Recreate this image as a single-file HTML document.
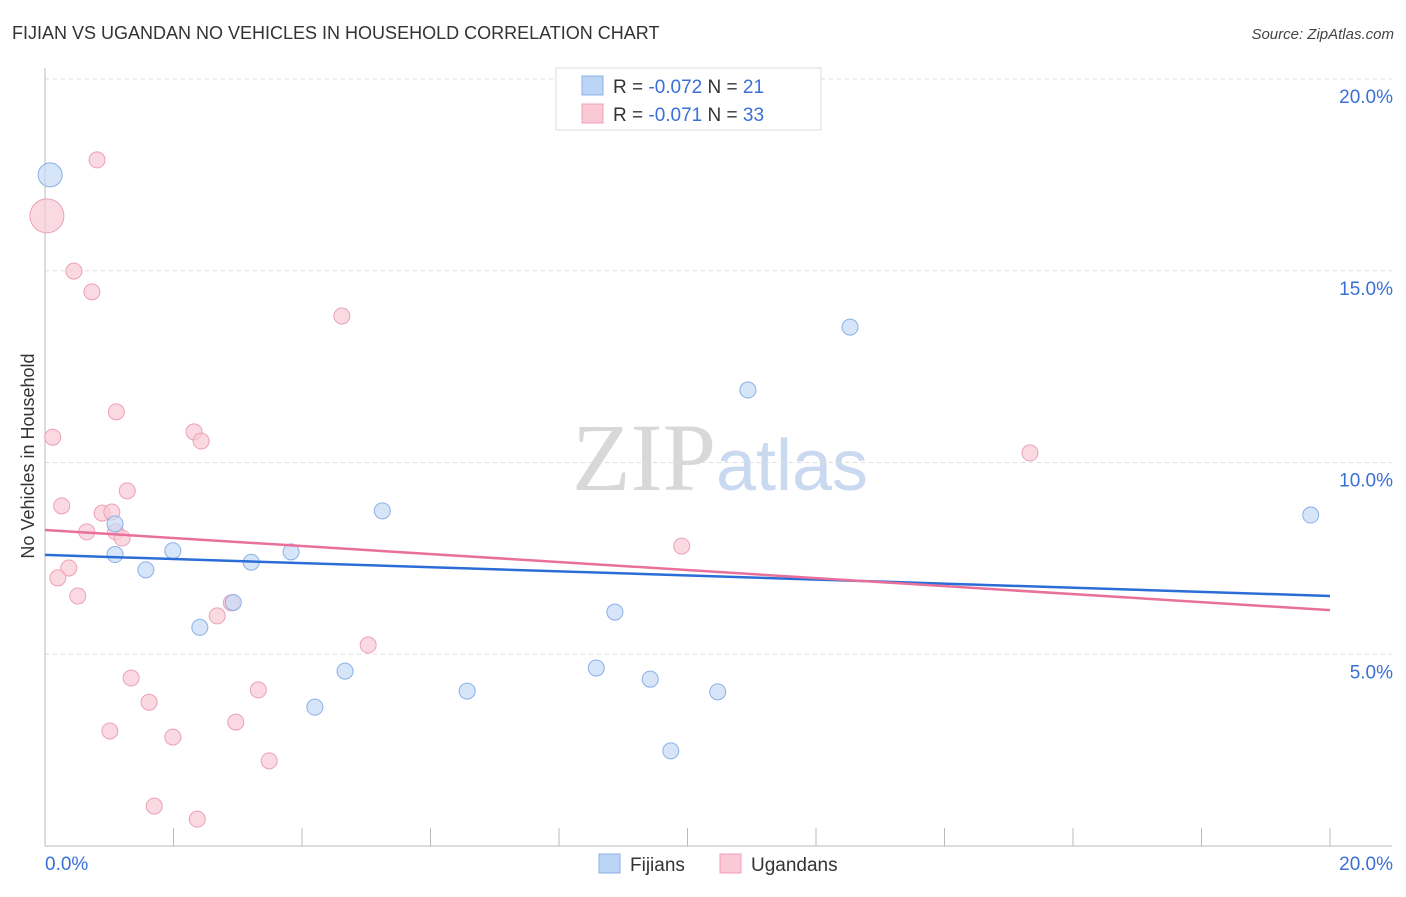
<!DOCTYPE html>
<html><head><meta charset="utf-8"><style>
body{margin:0;background:#fff;font-family:"Liberation Sans",sans-serif;}
svg text{font-family:"Liberation Sans",sans-serif;}
</style></head><body>
<svg id="chart" width="1406" height="892" xmlns="http://www.w3.org/2000/svg">
<text x="12" y="39" font-size="18" fill="#333">FIJIAN VS UGANDAN NO VEHICLES IN HOUSEHOLD CORRELATION CHART</text>
<text x="1394" y="39" font-size="15" fill="#444" text-anchor="end" font-style="italic">Source: ZipAtlas.com</text>
<text x="720" y="490" font-size="96" text-anchor="middle"><tspan fill="#d8d8d8" font-family="Liberation Serif">ZIP</tspan><tspan fill="#c9d9f0" font-size="72">atlas</tspan></text>
<g id="grid"></g>
<g id="axes"></g>
<text transform="translate(34,456) rotate(-90)" font-size="18" fill="#333" text-anchor="middle">No Vehicles in Household</text>
<g id="marks"></g>
<g>
<rect x="556" y="68" width="265" height="62" fill="#fff" stroke="#ddd"/>
<rect x="582" y="76" width="21" height="19" fill="#bcd4f6" stroke="#8ab0e8"/>
<rect x="582" y="104" width="21" height="19" fill="#f9c9d6" stroke="#eca0b6"/>
<text x="613" y="93" font-size="19" fill="#333">R = <tspan fill="#3a6fd8">-0.072</tspan>   N =  <tspan fill="#3a6fd8">21</tspan></text>
<text x="613" y="121" font-size="19" fill="#333">R =  <tspan fill="#3a6fd8">-0.071</tspan>   N = <tspan fill="#3a6fd8">33</tspan></text>
</g>
<g>
<rect x="599" y="854" width="21" height="19" fill="#bcd4f6" stroke="#8ab0e8"/>
<text x="630" y="871" font-size="19" fill="#333">Fijians</text>
<rect x="720" y="854" width="21" height="19" fill="#f9c9d6" stroke="#eca0b6"/>
<text x="751" y="871" font-size="19" fill="#333">Ugandans</text>
</g>
</svg>
<script>
const yTicks=[5,10,15,20];
const yTickLabels=["5.0%","10.0%","15.0%","20.0%"];
const xTicks=[0,2,4,6,8,10,12,14,16,18,20];
const fijX=[0.08,1.09,1.09,1.57,1.99,2.41,2.93,3.21,3.83,4.2,4.67,5.25,6.57,8.58,8.87,9.42,9.74,10.47,10.94,12.53,19.7];
const fijY=[17.5,8.4,7.6,7.2,7.7,5.7,6.35,7.4,7.67,3.62,4.56,8.74,4.04,4.64,6.1,4.35,2.48,4.02,11.89,13.53,8.63];
const fijR=[12,8,8,8,8,8,8,8,8,8,8,8,8,8,8,8,8,8,8,8,8];
const ugX=[0.03,0.81,0.45,0.73,4.62,1.11,0.12,2.32,2.43,1.28,0.26,0.89,1.04,0.65,1.1,1.2,0.37,0.2,0.51,2.9,2.68,9.91,15.33,5.03,1.34,3.32,1.62,2.97,1.01,1.99,3.49,1.7,2.37];
const ugY=[16.43,17.89,14.99,14.45,13.82,11.32,10.66,10.8,10.56,9.26,8.87,8.68,8.71,8.19,8.19,8.03,7.25,6.99,6.52,6.34,6.0,7.82,10.25,5.24,4.38,4.07,3.75,3.23,3.0,2.84,2.22,1.04,0.7];
const ugR=[17,8,8,8,8,8,8,8,8,8,8,8,8,8,8,8,8,8,8,8,8,8,8,8,8,8,8,8,8,8,8,8,8];
const fijTrend=[7.59,6.52];
const ugTrend=[8.24,6.15];
const X0=45,X1=1330,Y0=846,PX=(X1-X0)/20,PY=(846-79)/20;
const xs=v=>X0+v*PX, ys=v=>Y0-v*PY;
const NS="http://www.w3.org/2000/svg";
function mk(t,a,p){const e=document.createElementNS(NS,t);for(const k in a)e.setAttribute(k,a[k]);p.appendChild(e);return e;}
const grid=document.getElementById('grid'),axes=document.getElementById('axes'),marks=document.getElementById('marks');
yTicks.forEach((t,i)=>{
 const l=mk('line',{x1:X0,x2:1392,y1:ys(t),y2:ys(t),stroke:'#ddd','stroke-dasharray':'4,4'},grid);
 
 
 const tx=mk('text',{x:1393,y:ys(t)+24,'font-size':19,fill:'#3a6fd8','text-anchor':'end'},grid);
 tx.textContent=yTickLabels[i];
 
 
});
const al=mk('line',{x1:X0,x2:X0,y1:68,y2:Y0,stroke:'#bbb'},axes);


const bl=mk('line',{x1:X0,x2:1392,y1:Y0,y2:Y0,stroke:'#bbb'},axes);


xTicks.forEach(t=>{
 const l=mk('line',{x1:xs(t),x2:xs(t),y1:828,y2:Y0,stroke:'#bbb'},axes);
 
 
});
const xl0=mk('text',{x:45,y:870,'font-size':19,fill:'#3a6fd8'},axes);xl0.textContent='0.0%';


const xl1=mk('text',{x:1393,y:870,'font-size':19,fill:'#3a6fd8','text-anchor':'end'},axes);xl1.textContent='20.0%';


function pts(X,Y,R,fill,stroke,name){
 X.forEach((x,i)=>{
  const c=mk('circle',{cx:xs(x),cy:ys(Y[i]),r:R[i],fill:fill,stroke:stroke,'stroke-width':1,'fill-opacity':0.7},marks);
  
  
 });
}
pts(ugX,ugY,ugR,'#f9c9d6','#eca0b6','ugandan-point');
pts(fijX,fijY,fijR,'#c6daf7','#8ab0e8','fijian-point');
const t1=mk('line',{x1:xs(0),x2:xs(20),y1:ys(fijTrend[0]),y2:ys(fijTrend[1]),stroke:'#2a6dd6','stroke-width':2.5},marks);


const t2=mk('line',{x1:xs(0),x2:xs(20),y1:ys(ugTrend[0]),y2:ys(ugTrend[1]),stroke:'#e8709a','stroke-width':2.5},marks);


</script>
</body></html>
